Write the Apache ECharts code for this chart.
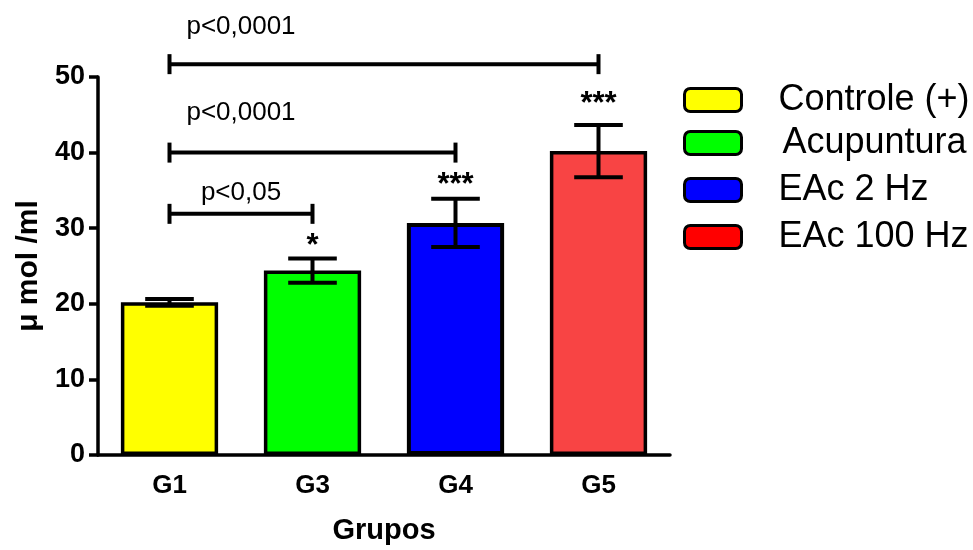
<!DOCTYPE html>
<html>
<head>
<meta charset="utf-8">
<script src="https://cdn.jsdelivr.net/npm/echarts@6/dist/echarts.min.js"></script>
<style>html,body{margin:0;padding:0;background:#fff}#c{width:973px;height:550px}</style>
</head>
<body>
<div id="c"></div>
<script>
// ---- data ----
const categories = ['G1', 'G3', 'G4', 'G5'];
const groupNames = ['Controle (+)', 'Acupuntura', 'EAc 2 Hz', 'EAc 100 Hz'];
const means = [20.2, 24.4, 30.7, 40.2];
const errors = [0.45, 1.6, 3.2, 3.45];
const stars = ['', '*', '***', '***'];
const starLevels = [null, 27.6, 35.6, 46.4];
const yTicks = [0, 10, 20, 30, 40, 50];
// comparisons: [from category index, to category index]
const compFrom = [0, 0, 0];
const compTo = [1, 2, 3];
const compLabels = ['p<0,05', 'p<0,0001', 'p<0,0001'];
const compLineLevels = [31.9, 40.0, 51.7];
const compLabelLevels = [34.7, 45.2, 56.7];

// ---- styles ----
const barColors = ['#FFFF00', '#00FF00', '#0000FF', '#F84444'];
const legendColors = ['#FFFF00', '#00FF00', '#0000FF', '#FF0000'];
const legendCenters = [100, 143, 190, 237];
const FONT = '"Liberation Sans", Arial, Helvetica, sans-serif';

const chart = echarts.init(document.getElementById('c'), null, {renderer: 'canvas'});

const barSeries = groupNames.map((name, i) => ({
  name: name,
  type: 'bar',
  stack: 'grp',
  barWidth: '68%',
  data: categories.map((c, j) => (j === i ? means[j] : '-')),
  itemStyle: {color: barColors[i], borderColor: '#000', borderWidth: i === 2 ? 4 : 3.5},
  emphasis: {disabled: true},
  z: 2
}));

const errorSeries = {
  type: 'custom',
  name: 'err',
  clip: false,
  z: 5,
  data: categories.map((c, i) => [i, means[i], means[i] - errors[i], means[i] + errors[i]]),
  encode: {x: 0, y: 1},
  renderItem: function (params, api) {
    const x = api.value(0);
    const lo = api.coord([x, api.value(2)]);
    const hi = api.coord([x, api.value(3)]);
    const half = api.size([1, 0])[0] * 0.68 * 0.25;
    const st = {stroke: '#000', lineWidth: 4};
    return {
      type: 'group',
      children: [
        {type: 'line', shape: {x1: hi[0], y1: hi[1], x2: lo[0], y2: lo[1]}, style: st},
        {type: 'line', shape: {x1: hi[0] - half, y1: hi[1], x2: hi[0] + half, y2: hi[1]}, style: st},
        {type: 'line', shape: {x1: lo[0] - half, y1: lo[1], x2: lo[0] + half, y2: lo[1]}, style: st}
      ]
    };
  }
};

const starSeries = {
  type: 'custom',
  name: 'stars',
  clip: false,
  z: 6,
  data: categories.map((c, i) => [i, starLevels[i] == null ? 0 : starLevels[i]]),
  encode: {x: 0, y: 1},
  renderItem: function (params, api) {
    const i = params.dataIndex;
    if (!stars[i]) return null;
    const p = api.coord([api.value(0), api.value(1)]);
    return {
      type: 'text',
      x: p[0], y: p[1],
      style: {text: stars[i], fill: '#000', font: 'bold 31px ' + FONT, align: 'center', verticalAlign: 'middle'}
    };
  }
};

const bracketSeries = {
  type: 'custom',
  name: 'brackets',
  clip: false,
  z: 6,
  data: compFrom.map((f, i) => [f, compLineLevels[i], compTo[i], compLabelLevels[i]]),
  encode: {x: 0, y: 1},
  renderItem: function (params, api) {
    const i = params.dataIndex;
    const a = api.coord([api.value(0), api.value(1)]);
    const b = api.coord([api.value(2), api.value(1)]);
    const m0 = api.coord([0, api.value(3)]);
    const m1 = api.coord([1, api.value(3)]);
    const st = {stroke: '#000', lineWidth: 4};
    const h = 10;
    return {
      type: 'group',
      children: [
        {type: 'line', shape: {x1: a[0], y1: a[1], x2: b[0], y2: b[1]}, style: st},
        {type: 'line', shape: {x1: a[0], y1: a[1] - h, x2: a[0], y2: a[1] + h}, style: st},
        {type: 'line', shape: {x1: b[0], y1: b[1] - h, x2: b[0], y2: b[1] + h}, style: st},
        {type: 'text', x: (m0[0] + m1[0]) / 2, y: m0[1],
         style: {text: compLabels[i], fill: '#000', font: '26px ' + FONT, align: 'center', verticalAlign: 'middle'}}
      ]
    };
  }
};

const legends = groupNames.map((name, i) => ({
  show: true,
  left: 683,
  top: legendCenters[i] - 18,
  padding: 0,
  orient: 'vertical',
  icon: 'roundRect',
  itemWidth: 57,
  itemHeight: 23,
  selectedMode: false,
  data: [{name: name, itemStyle: {color: legendColors[i], borderColor: '#000', borderWidth: 3}}],
  textStyle: {fontFamily: FONT, fontSize: 36, color: '#000', lineHeight: 36, padding: [0, 0, 0, i === 1 ? 36 : 32]}
}));

const option = {
  animation: false,
  backgroundColor: '#fff',
  legend: legends,
  grid: {left: 98, right: 303, top: 77, bottom: 91},
  xAxis: {
    type: 'category',
    data: categories,
    name: 'Grupos',
    nameLocation: 'middle',
    nameGap: 61,
    nameTextStyle: {fontFamily: FONT, fontWeight: 'bold', fontSize: 29, color: '#000'},
    axisLine: {lineStyle: {color: '#000', width: 3.5}},
    axisTick: {alignWithLabel: true, length: 9, lineStyle: {color: '#000', width: 3.5}},
    axisLabel: {fontFamily: FONT, fontWeight: 'bold', fontSize: 26, color: '#000', margin: 18},
    splitLine: {show: false}
  },
  yAxis: {
    type: 'value',
    min: yTicks[0],
    max: yTicks[yTicks.length - 1],
    interval: yTicks[1] - yTicks[0],
    name: 'μ mol /ml',
    nameLocation: 'middle',
    nameRotate: 90,
    nameGap: 52,
    nameTextStyle: {fontFamily: FONT, fontWeight: 'bold', fontSize: 30, color: '#000'},
    axisLine: {show: true, lineStyle: {color: '#000', width: 3.5}},
    axisTick: {show: true, length: 9, lineStyle: {color: '#000', width: 3.5}},
    axisLabel: {fontFamily: FONT, fontWeight: 'bold', fontSize: 27, color: '#000', margin: 13},
    splitLine: {show: false}
  },
  series: [...barSeries, errorSeries, starSeries, bracketSeries]
};

chart.setOption(option);
</script>
</body>
</html>
